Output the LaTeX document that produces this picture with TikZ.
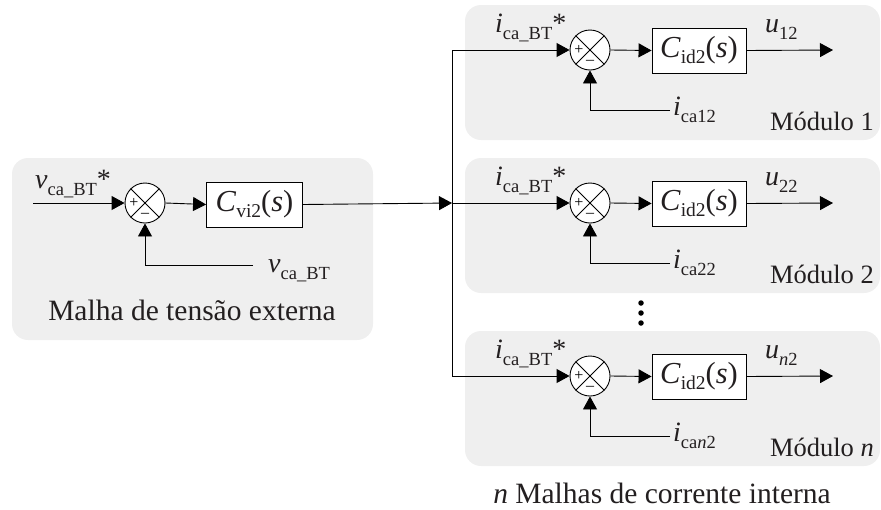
\documentclass[tikz,border=0pt]{standalone}
\usepackage{fontspec}
\setmainfont{Liberation Serif}
\usetikzlibrary{arrows.meta}

\definecolor{ink}{HTML}{231F20}
\definecolor{shade}{HTML}{EFEFEF}

% variable with upright subscript and optional trailing mark
\newcommand{\subsz}{\fontsize{18.5}{18.5}\selectfont}
\newcommand{\vr}[3]{\textit{#1}\raisebox{-0.27em}{\subsz #2}#3}
\newcommand{\ctrl}[1]{\textit{C}\raisebox{-0.18em}{\fontsize{19.5}{19.5}\selectfont #1}(\textit{s})}

\tikzset{
  x=1pt, y=-1pt,
  txt/.style={font=\fontsize{28}{30}\selectfont, text=ink, inner sep=0pt},
  caption/.style={font=\fontsize{29.5}{31}\selectfont, text=ink, inner sep=0pt},
  modname/.style={font=\fontsize{26.5}{28}\selectfont, text=ink, inner sep=0pt},
  panel/.style={fill=shade, draw=none, rounded corners=16pt},
  wire/.style={line width=0.9pt},
  arr/.style={wire, -{Triangle[length=13pt,width=14pt]}},
  sumnode/.style={circle, draw, line width=0.9pt, fill=white, minimum size=40pt, inner sep=0pt},
  block/.style={draw, line width=0.9pt, fill=white, inner sep=0pt, minimum height=45pt, text=ink, font=\fontsize{30.5}{32}\selectfont},
  sign/.style={font=\fontsize{16}{16}\selectfont, inner sep=0pt},
  dot/.style={circle, fill=black, inner sep=0pt, minimum size=5.5pt}
}

\begin{document}
\begin{tikzpicture}
\useasboundingbox (0,0) rectangle (881,509);

% outer voltage loop
\fill[panel] (12,158) rectangle (373,340);
\node[txt, anchor=base west] (vref) at (35,188) {\vr{v}{ca\_BT}{*}};
\coordinate (vin) at (33,203);
\node[sumnode] (s0) at (145,203) {};
\draw[line width=0.8pt] (s0.north west) -- (s0.south east) (s0.north east) -- (s0.south west);
\node[sign] (p0) at (134,203) {+};
\node[sign] (m0) at (145,215) {\textendash};
\node[block, minimum width=96pt] (cv) at (254.5,204.5) {\ctrl{vi2}};
\coordinate (fb0) at (253,265);
\node[txt, anchor=base west] (vfb) at (268,272) {\vr{v}{ca\_BT}{}};
\node[caption, anchor=base] (cap0) at (192,320) {Malha de tensão externa};
\draw[arr] (vin) -- (s0.west);
\draw[arr] (s0.east) -- (cv.west);
\draw[arr] (fb0) -| (s0.south);

% distribution bus
\coordinate (bus) at (452,203);
\coordinate (bus1) at (452,50);
\coordinate (busn) at (452,376);
\draw[arr] (cv.east) -- (bus);
\draw[wire] (bus1) -- (busn);

% inner current loops
\foreach \k/\dy/\outl/\fbl/\modl in {
  1/0/{\vr{u}{12}{}}/{\vr{i}{ca12}{}}/{Módulo 1},
  2/153/{\vr{u}{22}{}}/{\vr{i}{ca22}{}}/{Módulo 2},
  n/326/{\vr{u}{\textit{n}2}{}}/{\vr{i}{ca\textit{n}2}{}}/{Módulo \textit{n}}}{
  \fill[panel] (465,5+\dy) rectangle (880,140+\dy);
  \coordinate (b\k) at (452,50+\dy);
  \node[txt, anchor=base west] (iref\k) at (495,32+\dy) {\vr{i}{ca\_BT}{*}};
  \node[sumnode] (s\k) at (590,50+\dy) {};
  \draw[line width=0.8pt] (s\k.north west) -- (s\k.south east) (s\k.north east) -- (s\k.south west);
  \node[sign] (p\k) at (579,50+\dy) {+};
  \node[sign] (m\k) at (590,62+\dy) {\textendash};
  \node[block, minimum width=94pt] (c\k) at (699,50.5+\dy) {\ctrl{id2}};
  \coordinate (o\k) at (833,50+\dy);
  \node[txt, anchor=base west] (u\k) at (765,32+\dy) {\outl};
  \coordinate (f\k) at (670,110+\dy);
  \node[txt, anchor=base west] (ifb\k) at (673,115+\dy) {\fbl};
  \node[modname, anchor=base east] (mod\k) at (874,130+\dy) {\modl};
  \draw[arr] (b\k) -- (s\k.west);
  \draw[arr] (s\k.east) -- (c\k.west);
  \draw[arr] (c\k.east) -- (o\k);
  \draw[arr] (f\k) -| (s\k.south);
}

% ellipsis between module 2 and module n
\node[dot] (d1) at (641,303) {};
\node[dot] (d2) at (641,313) {};
\node[dot] (d3) at (641,323) {};

\node[caption, anchor=base] (cap1) at (662,503) {\textit{n} Malhas de corrente interna};
\end{tikzpicture}
\end{document}
